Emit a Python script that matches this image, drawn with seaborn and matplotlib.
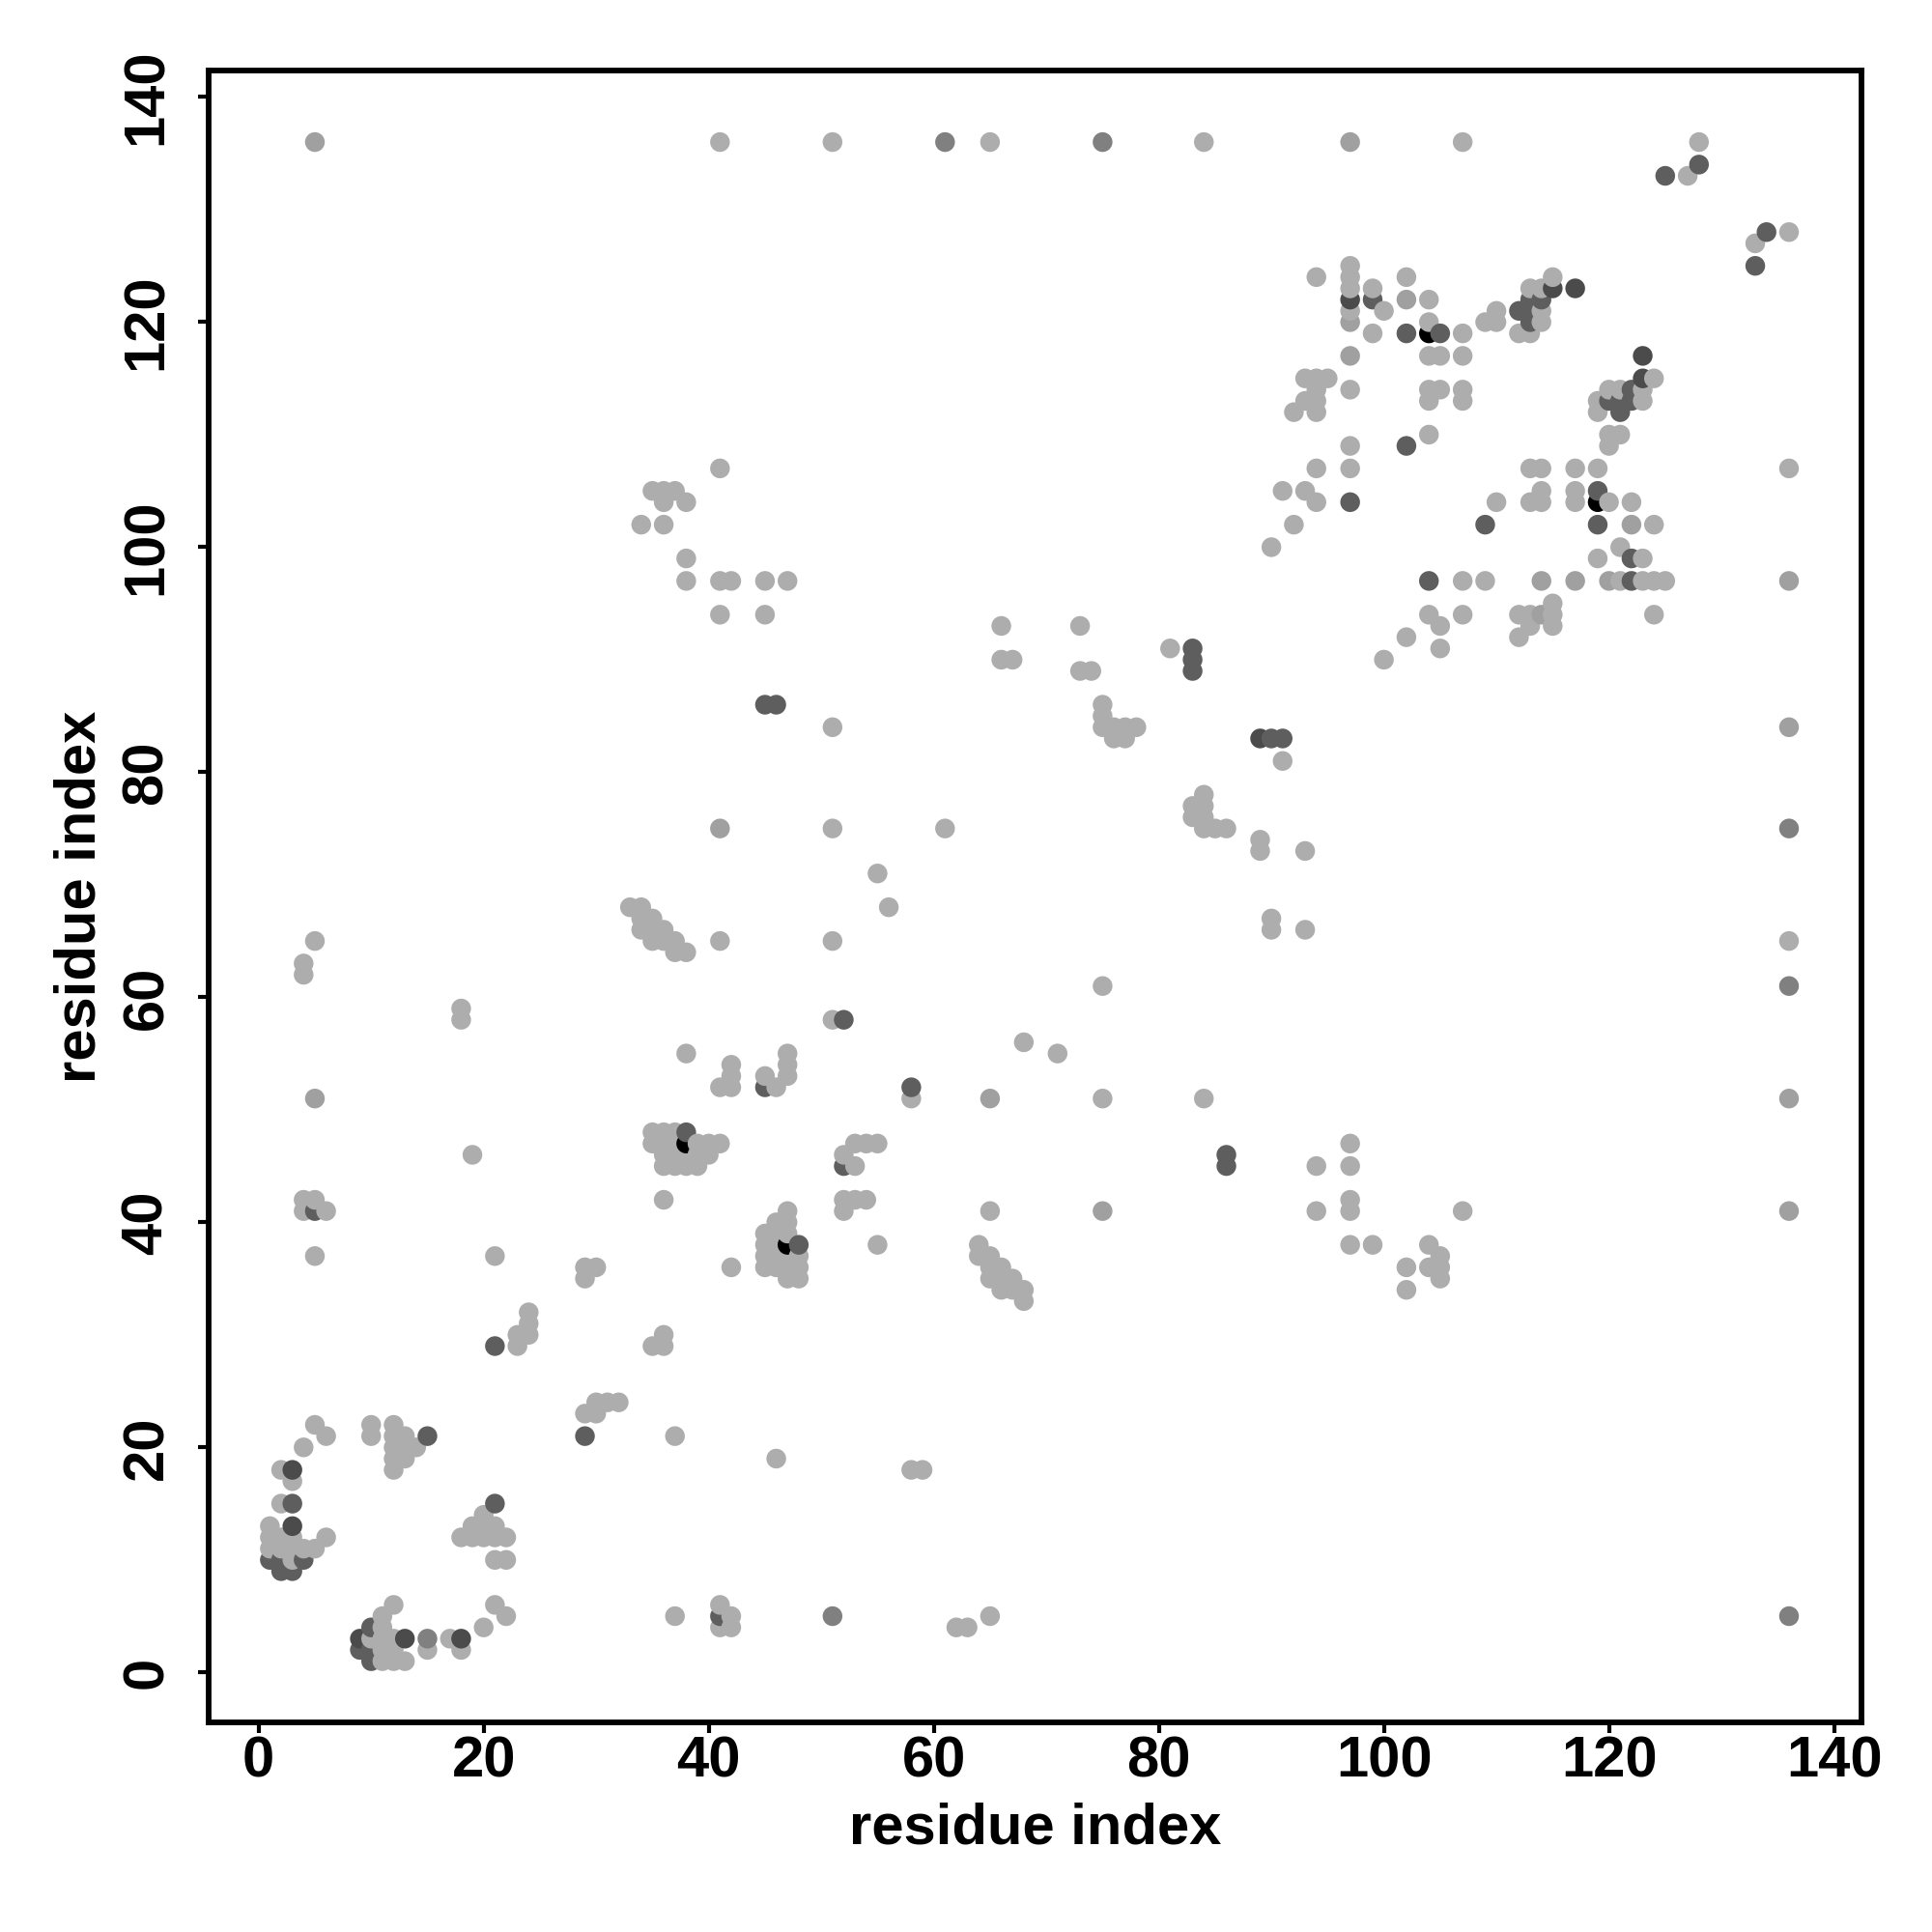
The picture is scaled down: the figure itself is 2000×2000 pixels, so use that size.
import numpy as np
import pandas as pd
import matplotlib
matplotlib.use("Agg")
import matplotlib.pyplot as plt
import seaborn as sns

# contacts, residue y -> residues x, one table per grey level
light = {
    136: [41, 51, 65, 84, 107, 128], 133: [127], 128: [136], 127: [133], 125: [97],
    124: [94, 97, 102, 115], 123: [97, 99, 113, 114], 122: [104],
    121: [97, 100, 110, 114], 120: [104, 109, 110, 114], 119: [99, 107, 112, 113],
    117: [104, 105, 107], 115: [93, 94, 95, 124],
    114: [94, 97, 104, 105, 107, 120, 121, 123], 113: [93, 94, 104, 107, 119, 123],
    112: [92, 94, 119], 110: [104, 120, 121], 109: [97, 120],
    107: [41, 94, 97, 113, 114, 117, 119, 136], 105: [35, 36, 37, 91, 93, 114, 117],
    104: [36, 38, 94, 110, 113, 114, 117, 120, 122], 102: [34, 36, 92, 124],
    100: [90, 121], 99: [38, 119, 123],
    97: [38, 41, 42, 45, 47, 107, 109, 121, 123, 124, 125], 95: [115],
    94: [41, 45, 104, 107, 112, 113, 115, 124], 93: [66, 73, 105, 113, 115],
    92: [102, 112], 91: [81, 105], 90: [66, 67, 100], 89: [73, 74], 86: [75], 85: [75],
    84: [51, 75, 76, 77, 78], 83: [76, 77], 81: [91], 78: [84], 77: [83, 84], 76: [83, 84],
    75: [51, 61, 84, 85, 86], 74: [89], 73: [89, 93], 71: [55], 68: [33, 34, 56],
    67: [34, 35, 90], 66: [34, 35, 36, 90, 93], 65: [5, 35, 36, 37, 41, 51, 136],
    64: [37, 38], 63: [4], 62: [4], 61: [75], 59: [18], 58: [18, 51], 56: [68],
    55: [38, 47, 71], 54: [42, 47], 53: [42, 45, 47], 52: [41, 42, 46], 51: [58, 75, 84],
    48: [35, 36, 37], 47: [35, 36, 37, 39, 40, 41, 53, 54, 55, 97],
    46: [19, 36, 37, 38, 39, 40, 52], 45: [36, 37, 38, 39, 53, 94, 97],
    42: [4, 5, 36, 52, 53, 54, 97], 41: [4, 6, 47, 52, 65, 94, 97, 107], 40: [46, 47],
    39: [45, 46, 47], 38: [45, 46, 55, 64, 97, 99, 104],
    37: [5, 21, 45, 46, 47, 48, 64, 65, 105],
    36: [29, 30, 42, 45, 46, 47, 48, 65, 66, 102, 104, 105],
    35: [29, 47, 48, 65, 66, 67, 105], 34: [66, 67, 68, 102], 33: [68], 32: [24], 31: [24],
    30: [23, 24, 36], 29: [23, 35, 36], 24: [30, 31, 32], 23: [29, 30], 22: [5, 10, 12],
    21: [6, 10, 12, 13, 37], 20: [4, 12, 13, 14], 19: [12, 13, 46], 18: [2, 12, 58, 59],
    17: [3], 15: [2], 14: [20], 13: [1, 19, 20, 21], 12: [1, 2, 3, 6, 18, 19, 20, 21, 22],
    11: [1, 2, 3, 4, 5], 10: [3, 21, 22], 6: [12, 21, 41], 5: [11, 22, 37, 42, 65],
    4: [11, 20, 41, 42, 62, 63], 3: [10, 11, 12, 17], 2: [11, 12, 15, 18], 1: [11, 12, 13],
}
mid = {
    136: [5, 97], 122: [102], 120: [97], 117: [97], 102: [122], 97: [114, 117, 120, 136],
    94: [114], 84: [136], 75: [41], 51: [5, 65, 136], 41: [75, 136],
}
deep = {136: [61, 75], 75: [136], 61: [136], 5: [51, 136], 3: [15]}
dark = {
    134: [128], 133: [125], 128: [134], 125: [133], 122: [99, 113, 114], 121: [112, 113],
    120: [113], 119: [102, 105], 114: [122], 113: [120, 121, 122], 112: [121], 109: [102],
    105: [119], 104: [97], 102: [109, 119], 99: [122], 97: [104, 122], 91: [83], 90: [83],
    89: [83], 86: [45, 46], 83: [90, 91], 58: [52], 52: [45, 58], 48: [38], 46: [86],
    45: [52, 86], 41: [5], 38: [48], 29: [21], 21: [15, 29], 15: [3, 21], 10: [1, 2, 4],
    9: [2, 3], 5: [41], 4: [10], 2: [9, 10], 1: [10],
}
darker = {123: [115, 117], 122: [97], 117: [123], 115: [123], 83: [89], 18: [3], 13: [3],
          3: [9, 13, 18]}
black = {119: [104], 104: [119], 47: [38], 38: [47]}

shades = {"light": light, "mid": mid, "deep": deep, "dark": dark, "darker": darker, "black": black}
palette = {"light": "#ADADAD", "mid": "#A0A0A0", "deep": "#808080", "dark": "#5E5E5E",
           "darker": "#4B4B4B", "black": "#000000"}
ticks = np.arange(0, 141, 20)

rows = []
for name, table in shades.items():
    for yval, xvals in table.items():
        for xval in xvals:
            rows.append({"x": xval, "y": yval, "shade": name})
df = pd.DataFrame(rows).sort_values(["x", "y"])

sns.set_style("ticks")
plt.rcParams["font.family"] = ["Liberation Sans", "DejaVu Sans"]
plt.rcParams["font.weight"] = "bold"
plt.rcParams["text.color"] = "black"
plt.rcParams["axes.labelcolor"] = "black"
plt.rcParams["xtick.labelcolor"] = "black"
plt.rcParams["ytick.labelcolor"] = "black"

fig = plt.figure(figsize=(10, 10), dpi=200)
ax = fig.add_axes([0.108, 0.1085, 0.8555, 0.855])
sns.scatterplot(data=df, x="x", y="y", hue="shade", palette=palette, s=54, linewidth=0,
                legend=False, ax=ax)
ax.set_xlim(-4.44, 142.44)
ax.set_ylim(-4.44, 142.36)
ax.set_xticks(ticks)
ax.set_yticks(ticks)
ax.tick_params(length=4, width=1.5, labelsize=21.5, color="black")
ax.tick_params(axis="x", pad=1)
ax.tick_params(axis="y", pad=9)
plt.setp(ax.get_yticklabels(), rotation=90, va="center")
for spine in ax.spines.values():
    spine.set_visible(True)
    spine.set_linewidth(2.1)
    spine.set_color("black")
ax.set_xlabel("residue index", fontsize=21.5, fontweight="bold", labelpad=5)
ax.set_ylabel("residue index", fontsize=21.5, fontweight="bold", labelpad=5)
fig.savefig("out.png", dpi=200, facecolor="white")
plt.close(fig)
